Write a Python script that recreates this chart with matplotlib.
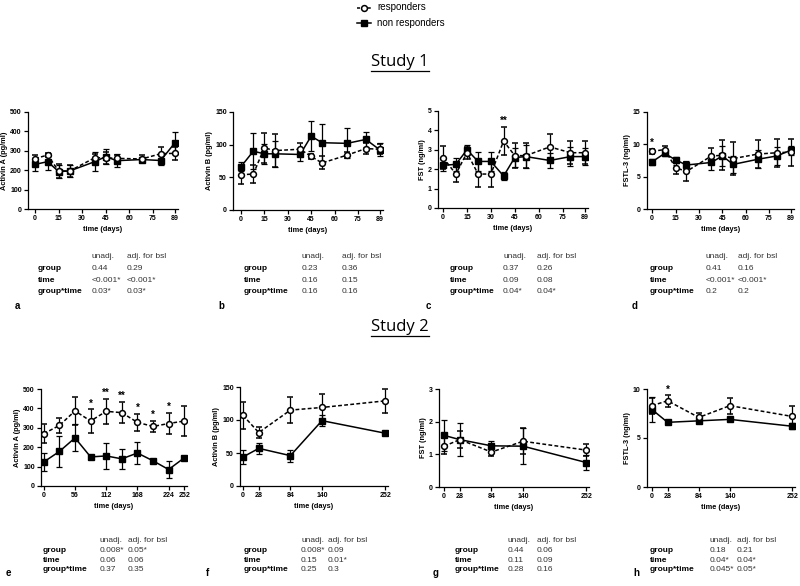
import matplotlib
matplotlib.use('Agg')
import matplotlib.pyplot as plt
from matplotlib.lines import Line2D

plt.rcParams['font.family'] = ['Liberation Sans', 'DejaVu Sans']

W, H = 800, 586

# ---- data -------------------------------------------------------------
days1 = [0, 8, 15, 22, 38, 45, 52, 68, 80, 89]
days1_fst = [0, 8, 15, 22, 30, 38, 45, 52, 67, 80, 89]
days2_actA = [0, 28, 56, 84, 112, 140, 168, 196, 224, 252]
days2 = [0, 28, 84, 140, 252]

# study 1
a_resp = [260, 278, 196, 196, 264, 264, 261, 258, 285, 287]
a_resp_err = [20, 10, 35, 30, 20, 30, 15, 20, 35, 35]
a_non = [230, 244, 193, 196, 244, 270, 249, 255, 250, 341]
a_non_err = [35, 45, 35, 30, 50, 40, 35, 15, 25, 55]

b_resp = [54, 55, 95, 91, 93, 82, 72, 84, 94, 93]
b_resp_err = [14, 14, 23, 25, 10, 4, 10, 5, 8, 8]
b_non = [66, 90, 86, 86, 85, 113, 103, 102, 108, 92]
b_non_err = [7, 28, 15, 20, 10, 23, 28, 23, 12, 10]

c_resp = [2.6, 1.75, 2.85, 1.75, 1.75, 3.45, 2.7, 2.7, 3.15, 2.85, 2.85]
c_resp_err = [0.6, 0.4, 0.3, 0.65, 0.65, 0.7, 0.65, 0.65, 0.65, 0.6, 0.6]
c_non = [2.2, 2.25, 3.0, 2.4, 2.4, 1.65, 2.6, 2.65, 2.45, 2.65, 2.65]
c_non_err = [0.3, 0.35, 0.25, 0.5, 0.5, 0.2, 0.5, 0.6, 0.4, 0.5, 0.45]

d_resp = [8.9, 9.2, 6.4, 5.8, 8.2, 8.3, 7.8, 8.5, 8.7, 8.8]
d_resp_err = [0.4, 0.6, 1.0, 1.5, 1.2, 2.3, 2.6, 2.2, 2.2, 2.1]
d_non = [7.3, 8.6, 7.6, 6.8, 7.2, 8.2, 6.9, 7.7, 8.2, 9.1]
d_non_err = [0.5, 0.4, 0.5, 0.6, 1.1, 1.5, 1.3, 1.4, 1.4, 0.7]

# study 2
e_resp = [270, 312, 387, 335, 385, 378, 328, 307, 322, 335]
e_resp_err = [50, 40, 70, 60, 65, 55, 45, 30, 55, 75]
e_non = [124, 178, 248, 150, 155, 140, 170, 130, 85, 145]
e_non_err = [45, 80, 70, 12, 65, 50, 55, 10, 45, 5]

f_resp = [107, 81, 115, 119, 129]
f_resp_err = [20, 9, 20, 20, 18]
f_non = [44, 57, 46, 99, 80]
f_non_err = [10, 8, 9, 8, 3]

g_resp = [1.25, 1.45, 1.07, 1.4, 1.13]
g_resp_err = [0.25, 0.25, 0.12, 0.4, 0.18]
g_non = [1.58, 1.45, 1.26, 1.25, 0.75]
g_non_err = [0.47, 0.5, 0.15, 0.55, 0.22]

h_resp = [8.3, 8.8, 7.1, 8.3, 7.2]
h_resp_err = [0.8, 0.6, 0.5, 0.8, 1.1]
h_non = [7.9, 6.6, 6.75, 6.9, 6.2]
h_non_err = [1.3, 0.15, 0.2, 0.1, 0.3]

# significance marks: (day, marker)
c_stars = [(38, '**')]
d_stars = [(0, '*')]
e_stars = [(84, '*'), (112, '**'), (140, '**'), (168, '*'), (196, '*'), (224, '*')]
h_stars = [(28, '*')]

ylabels = ['Activin A (pg/ml)', 'Activin B (pg/ml)', 'FST (ng/ml)', 'FSTL-3 (ng/ml)']
row1_xticks = [0, 15, 30, 45, 60, 75, 89]
e_xticks = [0, 56, 112, 168, 224, 252]
row2_xticks = [0, 28, 84, 140, 252]

stat_rows = ['group', 'time', 'group*time']
a_stats = [['0.44', '0.29'], ['<0.001*', '<0.001*'], ['0.03*', '0.03*']]
b_stats = [['0.23', '0.36'], ['0.16', '0.15'], ['0.16', '0.16']]
c_stats = [['0.37', '0.26'], ['0.09', '0.08'], ['0.04*', '0.04*']]
d_stats = [['0.41', '0.16'], ['<0.001*', '<0.001*'], ['0.2', '0.2']]
e_stats = [['0.008*', '0.05*'], ['0.06', '0.06'], ['0.37', '0.35']]
f_stats = [['0.008*', '0.09'], ['0.15', '0.01*'], ['0.25', '0.3']]
g_stats = [['0.44', '0.06'], ['0.11', '0.09'], ['0.28', '0.16']]
h_stats = [['0.18', '0.21'], ['0.04*', '0.04*'], ['0.045*', '0.05*']]


def px(x, y):
    return x / W, 1 - y / H


def add_axes(fig, left, top, right, bottom):
    return fig.add_axes([left / W, 1 - bottom / H, (right - left) / W, (bottom - top) / H])


def draw_panel(ax, x, resp, resp_err, non, non_err, ylim, yticks, xlim, xticks,
               ylabel, stars=None, star_off=0.0):
    ax.errorbar(x, non, yerr=non_err, color='black', lw=1.1, marker='s', ms=4,
                mfc='black', mec='black', capsize=2, elinewidth=0.9, capthick=0.9,
                zorder=2)
    ax.errorbar(x, resp, yerr=resp_err, color='black', lw=1.1, ls=(0, (2.5, 1.5)),
                marker='o', ms=4.2, mfc='white', mec='black', mew=1.1, capsize=2,
                elinewidth=0.9, capthick=0.9, zorder=3)
    if stars:
        for day, s in stars:
            i = list(x).index(day)
            top = max(resp[i] + resp_err[i], non[i] + non_err[i])
            ax.text(day, top + star_off, s, ha='center', va='bottom',
                    fontsize=7, fontweight='bold')
    ax.set_xlim(*xlim)
    ax.set_ylim(*ylim)
    ax.set_xticks(xticks)
    ax.set_yticks(yticks)
    for sp in ['top', 'right']:
        ax.spines[sp].set_visible(False)
    for sp in ['left', 'bottom']:
        ax.spines[sp].set_linewidth(0.9)
    ax.tick_params(direction='out', length=3, width=0.9, labelsize=5, pad=1.5)
    for lab in ax.get_xticklabels() + ax.get_yticklabels():
        lab.set_fontweight('bold')
    ax.set_xlabel('time (days)', fontsize=5.3, fontweight='bold', labelpad=3)
    ax.set_ylabel(ylabel, fontsize=5.3, fontweight='bold', labelpad=1.5)


def draw_stats(fig, letter, lx, gx, ux, ax_, y0, dy, letter_y, stats):
    fs = 6
    fig.text(*px(ux, y0), 'unadj.', fontsize=fs, color='#333333', va='center')
    fig.text(*px(ax_, y0), 'adj. for bsl', fontsize=fs, color='#333333', va='center')
    for k, name in enumerate(stat_rows):
        y = y0 + dy * (k + 1)
        fig.text(*px(gx, y), name, fontsize=fs, fontweight='bold', va='center')
        fig.text(*px(ux, y), stats[k][0], fontsize=fs, color='#333333', va='center')
        fig.text(*px(ax_, y), stats[k][1], fontsize=fs, color='#333333', va='center')
    fig.text(*px(lx, letter_y), letter, fontsize=7, fontweight='bold', va='center')


fig = plt.figure(figsize=(8, 5.86), dpi=100)

# ---- study 1 ----
ax = add_axes(fig, 28, 112, 178, 209)
draw_panel(ax, days1, a_resp, a_resp_err, a_non, a_non_err, (0, 500),
           range(0, 501, 100), (-4.5, 91), row1_xticks, ylabels[0])
ax = add_axes(fig, 233, 112, 383, 210)
draw_panel(ax, days1, b_resp, b_resp_err, b_non, b_non_err, (0, 150),
           [0, 50, 100, 150], (-5, 91), row1_xticks, ylabels[1])
ax = add_axes(fig, 438, 111, 588, 208)
draw_panel(ax, days1_fst, c_resp, c_resp_err, c_non, c_non_err, (0, 5),
           range(0, 6), (-3.2, 91), row1_xticks, ylabels[2], c_stars, 0.1)
ax = add_axes(fig, 647, 112, 794, 209)
draw_panel(ax, days1, d_resp, d_resp_err, d_non, d_non_err, (0, 15),
           [0, 5, 10, 15], (-3.3, 91), row1_xticks, ylabels[3], d_stars, 0.2)

# ---- study 2 ----
ax = add_axes(fig, 41, 389, 187, 486)
draw_panel(ax, days2_actA, e_resp, e_resp_err, e_non, e_non_err, (0, 500),
           range(0, 501, 100), (-5, 257), e_xticks, ylabels[0], e_stars, 5)
ax = add_axes(fig, 240, 387, 388, 486)
draw_panel(ax, days2, f_resp, f_resp_err, f_non, f_non_err, (0, 150),
           [0, 50, 100, 150], (-5.3, 257), row2_xticks, ylabels[1])
ax = add_axes(fig, 439, 389, 589, 487)
draw_panel(ax, days2, g_resp, g_resp_err, g_non, g_non_err, (0, 3),
           [0, 1, 2, 3], (-9, 257), row2_xticks, ylabels[2])
ax = add_axes(fig, 647, 389, 795, 487)
draw_panel(ax, days2, h_resp, h_resp_err, h_non, h_non_err, (0, 10),
           [0, 5, 10], (-9, 257), row2_xticks, ylabels[3], h_stars, 0.05)

# ---- stats tables ----
draw_stats(fig, 'a', 15, 38, 92, 127, 257, 11.5, 306, a_stats)
draw_stats(fig, 'b', 218, 244, 302, 342, 257, 11.5, 306, b_stats)
draw_stats(fig, 'c', 426, 450, 503, 537, 257, 11.5, 306, c_stats)
draw_stats(fig, 'd', 632, 650, 706, 738, 257, 11.5, 306, d_stats)
draw_stats(fig, 'e', 6, 43, 100, 128, 541, 9.5, 573, e_stats)
draw_stats(fig, 'f', 206, 244, 301, 328, 541, 9.5, 573, f_stats)
draw_stats(fig, 'g', 433, 455, 508, 537, 541, 9.5, 573, g_stats)
draw_stats(fig, 'h', 633, 650, 710, 737, 541, 9.5, 573, h_stats)

# ---- titles (underlined) ----
renderer = fig.canvas.get_renderer()
for title, ty in [('Study 1', 62), ('Study 2', 327)]:
    t = fig.text(*px(400, ty), title, fontsize=12, ha='center', va='center',
                 family=['Open Sans', 'DejaVu Sans'])
    bb = t.get_window_extent(renderer)
    yline = bb.y0 - 1
    fig.add_artist(Line2D([bb.x0 / W, bb.x1 / W], [yline / H, yline / H],
                          color='black', lw=0.9))

# ---- legend (drawn by hand in figure pixels) ----
legend_items = [
    ('responders', 7.5, (0, (2, 1.5)), dict(marker='o', ms=4.2, mfc='white', mew=1.1)),
    ('non responders', 22.5, '-', dict(marker='s', ms=4, mfc='black')),
]
for label, ly, ls, mstyle in legend_items:
    x0, y0 = px(357, ly)
    x1, _ = px(371, ly)
    fig.add_artist(Line2D([x0, x1], [y0, y0], color='black', lw=1.1, ls=ls))
    xm, _ = px(364, ly)
    fig.add_artist(Line2D([xm], [y0], lw=0, mec='black', **mstyle))
    fig.text(*px(377, ly), label, fontsize=7, va='center')

fig.savefig('out.png', dpi=100)
